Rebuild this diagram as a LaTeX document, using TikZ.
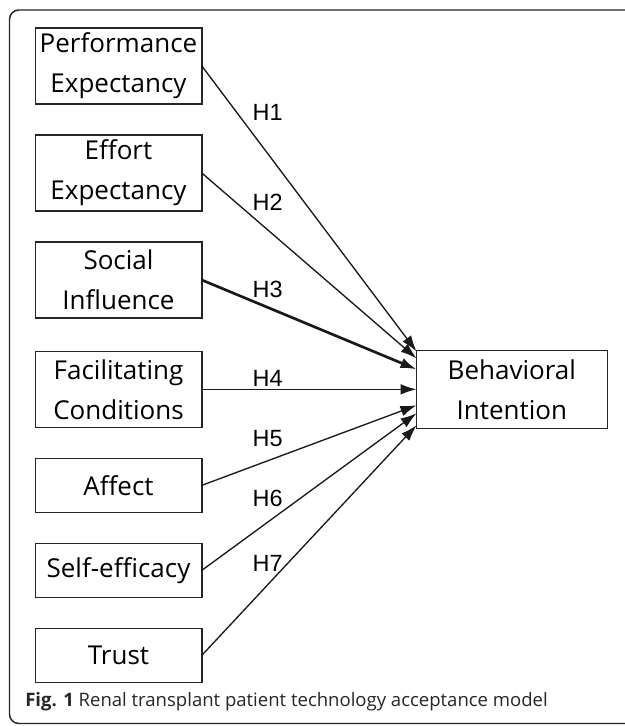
\documentclass[tikz,border=0pt]{standalone}
\usepackage{fontspec}
\setmainfont{Open Sans}
\newfontfamily\hlabelfont{Liberation Sans}
\usetikzlibrary{positioning}
\usetikzlibrary{arrows.meta}
\usetikzlibrary{calc}

\begin{document}
\begin{tikzpicture}[x=0.75pt,y=-0.75pt,
	factor/.style={draw=black!85,line width=1pt,rectangle,minimum width=125pt,minimum height=57pt,inner sep=1pt,outer sep=0pt,align=center,font=\fontsize{19.5}{30}\selectfont},
	single/.style={factor,minimum height=40.5pt},
	hyp/.style={draw=black!90,line width=1pt,-{Latex[length=12pt,width=8pt]}},
	hlabel/.style={inner sep=0pt,font=\hlabelfont\fontsize{17.6}{20}\selectfont},
	node distance=23.25pt]
	\useasboundingbox (0,0) rectangle (625,726);
	\draw[black!85,line width=1.1pt,rounded corners=7pt] (9.5,10) rectangle (660,723.5);

	\node[factor] (perf) at (118.5,66) {Performance\\Expectancy};
	\node[factor] (effort) [below=of perf] {Effort\\Expectancy};
	\node[factor] (social) [below=of effort] {Social\\Influence};
	\node[factor] (facil) [below=25pt of social] {Facilitating\\Conditions};
	\node[single] (affect) [below=of facil] {Affect};
	\node[single] (selfeff) [below=of affect] {Self-efficacy};
	\node[single] (trust) [below=of selfeff] {Trust};
	\node[factor,minimum width=143pt,minimum height=58.5pt] (bi) [right=161pt of facil] {Behavioral\\Intention};

	\draw[hyp] (perf.east) -- node[hlabel,pos=0.307,above=24.6pt] {H1} ($(bi.west)+(0,-38)$);
	\draw[hyp] (effort.east) -- node[hlabel,pos=0.307,above=14pt] {H2} ($(bi.west)+(0,-31)$);
	\draw[hyp,line width=2pt] (social.east) -- node[hlabel,pos=0.307,above=6.2pt] {H3} ($(bi.west)+(0,-20)$);
	\draw[hyp] (facil.east) -- node[hlabel,pos=0.307,above=2pt] {H4} (bi.west);
	\draw[hyp] (affect.east) -- node[hlabel,pos=0.307,above=9.8pt] {H5} ($(bi.west)+(0,16)$);
	\draw[hyp] (selfeff.east) -- node[hlabel,pos=0.307,above=10.8pt] {H6} ($(bi.west)+(0,24)$);
	\draw[hyp] (trust.east) -- node[hlabel,pos=0.307,above=9.2pt] {H7} ($(bi.west)+(0,36)$);

	\node[anchor=west,inner sep=0pt,text=black!85,font=\fontsize{13.9}{17}\selectfont] (caption) at (25,702) {\textbf{Fig. 1} Renal transplant patient technology acceptance model};
\end{tikzpicture}
\end{document}
